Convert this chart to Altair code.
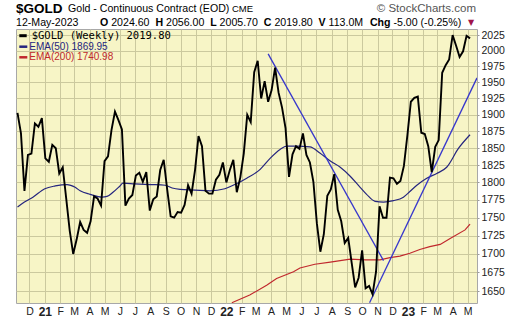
import altair as alt
import pandas as pd

# ---------------- data ----------------
price_start = "2020-11-13"   # weekly closes, one every Friday
price_values = [
    1903, 1872, 1788, 1840, 1842, 1887, 1882, 1895,
    # 2021
    1835, 1830, 1855, 1850, 1813, 1822, 1777, 1732, 1700, 1720, 1744, 1733,
    1729, 1745, 1780, 1777, 1767, 1831, 1838, 1877, 1905, 1892, 1878, 1767, 1777,
    1782, 1810, 1814, 1801, 1815, 1760, 1776, 1780, 1818, 1833, 1790, 1752, 1750,
    1758, 1757, 1768, 1796, 1784, 1818, 1868, 1853, 1788, 1784, 1784, 1804, 1811, 1829,
    # 2022
    1800, 1818, 1833, 1786, 1807, 1842, 1900, 1889, 1966, 1984, 1925, 1952,
    1920, 1938, 1973, 1934, 1911, 1880, 1808, 1841, 1853, 1849, 1872, 1840, 1829,
    1801, 1742, 1703, 1727, 1781, 1790, 1812, 1761, 1745, 1715, 1722, 1688, 1655, 1668,
    1705, 1654, 1657, 1646, 1676, 1766, 1750, 1750, 1807, 1806, 1798, 1802, 1824,
    # 2023
    1869, 1920, 1926, 1928, 1873, 1871, 1853, 1815, 1852, 1862, 1965, 1977, 1986,
    2025, 2008, 1990, 1999, 2024, 2019.8,
]

ema50_dates = [
    "2020-11-13", "2020-11-27", "2020-12-14", "2021-01-07", "2021-01-28", "2021-02-21",
    "2021-03-09", "2021-03-19", "2021-04-08", "2021-05-02", "2021-05-12", "2021-05-24",
    "2021-06-07", "2021-06-13", "2021-07-07", "2021-08-07", "2021-09-06", "2021-09-20",
    "2021-10-06", "2021-11-05", "2021-12-05", "2022-01-04", "2022-01-24", "2022-02-17",
    "2022-03-16", "2022-04-05", "2022-04-25", "2022-05-08", "2022-05-29", "2022-06-24",
    "2022-07-14", "2022-08-04", "2022-08-24", "2022-09-13", "2022-10-03", "2022-10-16",
    "2022-11-02", "2022-11-19", "2022-12-09", "2022-12-29", "2023-01-11", "2023-01-25",
    "2023-02-14", "2023-03-06", "2023-03-26", "2023-04-19", "2023-05-12",
]
ema50_values = [
    1765, 1772, 1779, 1791, 1795, 1797,
    1793, 1788, 1783, 1779, 1780, 1786,
    1795, 1799, 1798, 1797, 1796, 1792,
    1790, 1789, 1788, 1791, 1797, 1806,
    1819, 1835, 1848, 1853, 1853, 1852,
    1843, 1831, 1822, 1809, 1793, 1783,
    1773, 1772, 1774, 1779, 1787, 1796,
    1806, 1813, 1822, 1850, 1870,
]

ema200_dates = [
    "2022-01-18", "2022-02-23", "2022-03-29", "2022-04-18", "2022-05-22", "2022-06-04",
    "2022-07-04", "2022-08-04", "2022-09-13", "2022-10-13", "2022-11-12", "2022-12-02",
    "2022-12-22", "2023-01-11", "2023-01-31", "2023-02-20", "2023-03-13", "2023-04-02",
    "2023-05-02", "2023-05-12",
]
ema200_values = [
    1635, 1645, 1658, 1667, 1676, 1681,
    1686, 1689, 1693, 1692, 1692, 1695,
    1697, 1701, 1706, 1710, 1713, 1721,
    1733, 1741,
]

trend1_dates = ["2022-04-01", "2022-11-19"]
trend1_values = [1995, 1691]
trend2_dates = ["2022-10-22", "2023-05-26"]
trend2_values = [1635, 1957]

y_ticks = list(range(1650, 2026, 25))
tick_months = [(2020, 12)] + [(y, m) for y in (2021, 2022) for m in range(1, 13)] + [(2023, m) for m in range(1, 6)]

# ---------------- tables ----------------
price_df = pd.DataFrame({
    "date": pd.date_range(price_start, periods=len(price_values), freq="7D"),
    "value": price_values,
})
ema50_df = pd.DataFrame({"date": pd.to_datetime(ema50_dates), "value": ema50_values})
ema200_df = pd.DataFrame({"date": pd.to_datetime(ema200_dates), "value": ema200_values})
trend1_df = pd.DataFrame({"date": pd.to_datetime(trend1_dates), "value": trend1_values})
trend2_df = pd.DataFrame({"date": pd.to_datetime(trend2_dates), "value": trend2_values})

W, H = 461, 274
FONT = "Liberation Sans"

x_enc = alt.X(
    "date:T",
    scale=alt.Scale(domain=[alt.DateTime(year=2020, month=11, date=10),
                            alt.DateTime(year=2023, month=5, date=26)], nice=False),
    axis=alt.Axis(
        values=[alt.DateTime(year=y, month=m, date=7) for y, m in tick_months],
        labelExpr="month(datum.value)==0 ? timeFormat(datum.value,'%y') : slice(timeFormat(datum.value,'%b'),0,1)",
        labelFontWeight={"condition": {"test": "month(datum.value)==0", "value": "bold"}, "value": "normal"},
        labelFontSize={"condition": {"test": "month(datum.value)==0", "value": 12}, "value": 10.5},
        title=None, ticks=False, domain=False, grid=True, labelPadding=3,
        labelAlign="center", labelFlush=False, labelOverlap=False,
    ),
)
y_enc = alt.Y(
    "value:Q",
    scale=alt.Scale(type="log", domain=[1634.6, 2035], nice=False, zero=False),
    axis=alt.Axis(
        orient="right", values=y_ticks, format="d", title=None, grid=True,
        ticks=True, tickSize=2, tickColor="#999999", labelPadding=2, domain=False,
        labelFontSize=10.5, labelFlush=False, labelOverlap=False,
    ),
)

ema200 = alt.Chart(ema200_df).mark_line(color="#c0282d", strokeWidth=1.2, clip=True).encode(x=x_enc, y=y_enc)
ema50 = alt.Chart(ema50_df).mark_line(color="#25257f", strokeWidth=1.2, clip=True, interpolate="monotone").encode(x=x_enc, y=y_enc)
trend1 = alt.Chart(trend1_df).mark_line(color="#3737cc", strokeWidth=1.3, clip=True).encode(x=x_enc, y=y_enc)
trend2 = alt.Chart(trend2_df).mark_line(color="#3737cc", strokeWidth=1.3, clip=True).encode(x=x_enc, y=y_enc)
price = alt.Chart(price_df).mark_line(color="#000000", strokeWidth=1.9, clip=True).encode(x=x_enc, y=y_enc)


def txt(s, x, y, size=10.6, weight="normal", color="#000000", align="left", font=FONT):
    return alt.Chart(alt.Data(values=[{}])).mark_text(
        text=s, align=align, baseline="middle", fontSize=size, fontWeight=weight,
        color=color, font=font,
    ).encode(x=alt.value(x), y=alt.value(y))


def dash(x1, x2, y, color, width):
    return alt.Chart(alt.Data(values=[{}])).mark_rule(color=color, strokeWidth=width).encode(
        x=alt.value(x1), x2=alt.value(x2), y=alt.value(y))


L1, L2 = -20.3, -6.3
header = [
    txt("$GOLD", 0, L1, size=13.5, weight="bold"),
    txt("Gold - Continuous Contract (EOD)", 52, L1, size=10.6),
    txt("CME", 216, L1 + 0.5, size=9.5),
    txt("\u00a9 StockCharts.com", 460, L1, size=11.5, color="#555555", align="right"),
    txt("12-May-2023", 0, L2),
    txt("O", 84, L2, weight="bold"), txt("2024.60", 95.2, L2),
    txt("H", 139.4, L2, weight="bold"), txt("2056.00", 150, L2),
    txt("L", 194.2, L2, weight="bold"), txt("2005.70", 203.6, L2),
    txt("C", 247.8, L2, weight="bold"), txt("2019.80", 258.4, L2),
    txt("V", 302.6, L2, weight="bold"), txt("113.0M", 312.6, L2),
    txt("Chg", 353.9, L2, weight="bold"), txt("-5.00 (-0.25%)", 377.5, L2),
    txt("\u25bc", 452, L2, size=8, color="#a0144a", font="DejaVu Sans"),
]
legend = [
    dash(3.3, 10.7, 6.7, "#000000", 3),
    txt("$GOLD (Weekly) 2019.80", 15.7, 6.7, size=10.5, font="DejaVu Sans Mono"),
    dash(3.3, 11.3, 17.7, "#25257f", 2.5),
    txt("EMA(50) 1869.95", 13.3, 17.7, size=10, color="#25257f"),
    dash(3.3, 11.3, 28.3, "#c0282d", 2.5),
    txt("EMA(200) 1740.98", 13.3, 28.3, size=10, color="#c0282d"),
]

chart = alt.layer(ema200, ema50, trend1, trend2, price, *legend, *header).properties(
    width=W, height=H,
    padding={"left": 16, "top": 29, "right": 43, "bottom": 15},
    autosize=alt.AutoSizeParams(type="none"),
    background="#ffffff",
).configure_view(
    fill="#f7f5c6", stroke="#a8a8a8", strokeWidth=1,
).configure_axis(
    labelFont=FONT, labelColor="#222222", gridColor="#cbc99e", gridWidth=1, gridOpacity=1,
)

chart.save("out.html", embed_options={"renderer": "svg", "actions": False})
